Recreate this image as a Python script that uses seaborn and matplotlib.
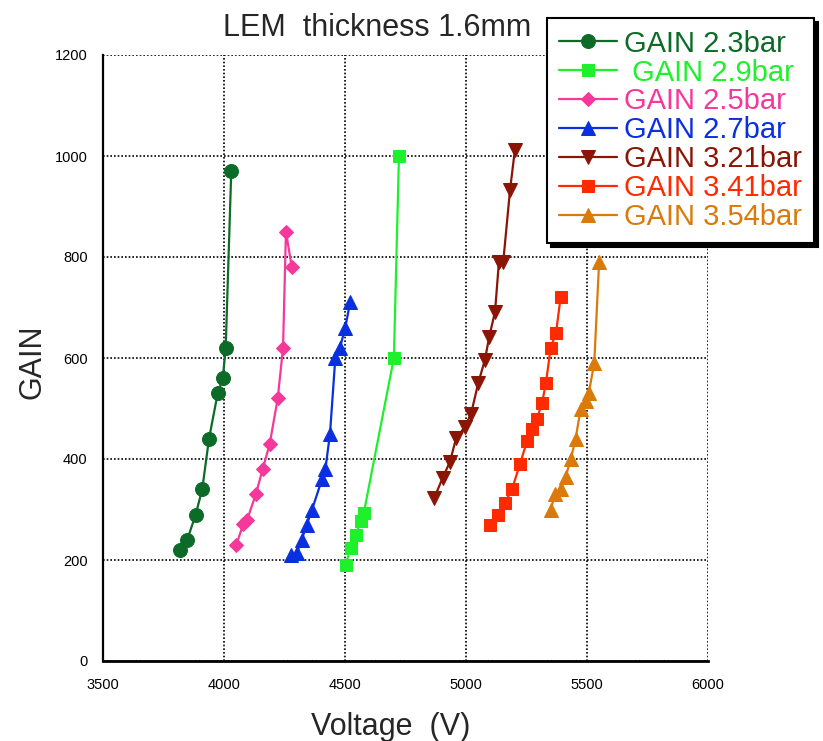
import matplotlib
matplotlib.use("Agg")
import matplotlib.pyplot as plt
import seaborn as sns
import numpy as np

sns.set_style("white")
plt.rcParams['font.family'] = ['Liberation Sans', 'DejaVu Sans']

# ---- data ----
labels = ["GAIN 2.3bar", " GAIN 2.9bar", "GAIN 2.5bar", "GAIN 2.7bar",
          "GAIN 3.21bar", "GAIN 3.41bar", "GAIN 3.54bar"]

v_23 = [3820, 3848, 3883, 3910, 3938, 3974, 3995, 4007, 4030]
g_23 = [220, 240, 290, 340, 440, 530, 560, 620, 970]

v_29 = [4503, 4523, 4545, 4565, 4578, 4702, 4723]
g_29 = [190, 224, 249, 278, 294, 600, 1000]

v_25 = [4051, 4080, 4096, 4132, 4160, 4189, 4222, 4244, 4256, 4280]
g_25 = [230, 272, 280, 331, 380, 430, 520, 620, 850, 780]

v_27 = [4276, 4300, 4321, 4342, 4364, 4405, 4419, 4438, 4460, 4479, 4501, 4521]
g_27 = [210, 213, 240, 270, 300, 360, 380, 450, 600, 620, 660, 710]

v_321 = [4868, 4903, 4934, 4959, 4996, 5021, 5051, 5078, 5096, 5120, 5136, 5154, 5182, 5202]
g_321 = [322, 362, 395, 441, 464, 490, 551, 596, 642, 692, 790, 791, 933, 1012]

v_341 = [5100, 5133, 5161, 5190, 5223, 5252, 5273, 5293, 5314, 5330, 5350, 5372, 5391]
g_341 = [270, 290, 313, 340, 390, 435, 460, 480, 510, 550, 620, 650, 720]

v_354 = [5350, 5368, 5391, 5412, 5433, 5453, 5474, 5496, 5507, 5530, 5550]
g_354 = [300, 330, 340, 365, 400, 440, 500, 515, 530, 590, 790]

xticks = [3500, 4000, 4500, 5000, 5500, 6000]
yticks = [0, 200, 400, 600, 800, 1000, 1200]

series = [
    (v_23, g_23, "#0b6b27", "o", 10),
    (v_29, g_29, "#1ef02c", "s", 9),
    (v_25, g_25, "#f5389a", "D", 7),
    (v_27, g_27, "#0a2fe0", "^", 9.5),
    (v_321, g_321, "#8b1505", "v", 9.5),
    (v_341, g_341, "#ff2a00", "s", 9),
    (v_354, g_354, "#d97a0a", "^", 9.5),
]

fig = plt.figure(figsize=(8.23, 7.41), dpi=100)
fig.patch.set_facecolor("white")
ax = fig.add_axes([103 / 823, 1 - 661 / 741, 605 / 823, 606 / 741])

for (vx, gy, col, mk, ms), lab in zip(series, labels):
    sns.lineplot(x=vx, y=gy, ax=ax, color=col, marker=mk, markersize=ms,
                 markeredgecolor=col, markerfacecolor=col, linewidth=1.6,
                 sort=False, estimator=None, label=lab)

ax.set_xlim(3500, 6000)
ax.set_ylim(0, 1200)
ax.set_xticks(xticks)
ax.set_yticks(yticks)
ax.set_xticklabels([str(t) for t in xticks])
ax.set_yticklabels([str(t) for t in yticks])
ax.tick_params(axis="x", direction="in", length=9, width=1.2, pad=12,
               labelsize=10.5, colors="black")
ax.tick_params(axis="y", direction="in", length=6, width=1.2, pad=11,
               labelsize=10.5, colors="black")
ax.grid(True, color="black", linestyle=(0, (1, 1.2)), linewidth=1.2)
ax.set_axisbelow(True)

for side in ["top", "right"]:
    ax.spines[side].set_visible(False)
ax.spines["left"].set_linewidth(1.6)
ax.spines["bottom"].set_linewidth(2.0)
ax.spines["left"].set_color("black")
ax.spines["bottom"].set_color("black")

ax.set_xlabel("Voltage  (V)", fontsize=22, va="baseline")
ax.xaxis.set_label_coords((391 - 103) / 605, (661 - 735) / 606)
ax.set_ylabel("GAIN", fontsize=22, va="center")
ax.yaxis.set_label_coords((32 - 103) / 605, (661 - 362) / 606)
ax.set_title("LEM  thickness 1.6mm", fontsize=22, x=(376.7 - 103) / 605,
             y=(661 - 36) / 606, va="baseline", pad=0)

leg = ax.legend(loc="upper left", bbox_to_anchor=(547 / 823, 1 - 18 / 741),
                bbox_transform=fig.transFigure, fontsize=21,
                labelcolor="linecolor", handlelength=2.0, handletextpad=0.25,
                labelspacing=0.03, borderpad=0.4, borderaxespad=0,
                fancybox=False, framealpha=1, edgecolor="black",
                shadow={"ox": 3, "oy": -3, "color": "black", "alpha": 1})
leg.get_frame().set_linewidth(1.5)
leg.set_zorder(10)

fig.savefig("out.png", dpi=100, facecolor="white")
